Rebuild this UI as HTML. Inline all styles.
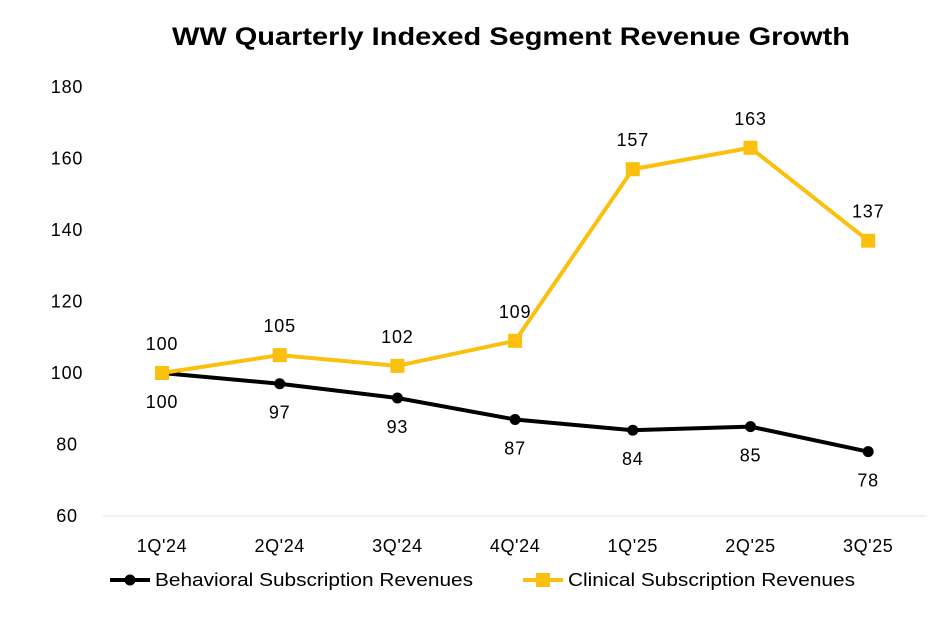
<!DOCTYPE html>
<html><head><meta charset="utf-8"><style>
body{margin:0;background:#fff;font-family:"Liberation Sans",sans-serif;}
svg text{font-family:"Liberation Sans",sans-serif;}
</style></head><body>
<svg id="c" width="949" height="619"></svg>
<script>
const categories=["1Q'24","2Q'24","3Q'24","4Q'24","1Q'25","2Q'25","3Q'25"];
const behavioral=[100,97,93,87,84,85,78];
const clinical=[100,105,102,109,157,163,137];
const yTicks=[60,80,100,120,140,160,180];
const NS="http://www.w3.org/2000/svg";
const svg=document.getElementById('c');
function y(v){return 516-(v-60)*(429/120);}
function x(i){return 162+i*117.7;}
function mk(t,a,p){const e=document.createElementNS(NS,t);for(const k in a)e.setAttribute(k,a[k]);(p||svg).appendChild(e);return e;}
const title=mk('text',{x:511,y:45,'text-anchor':'middle','font-size':25,'font-weight':'bold',fill:'#000',textLength:678,lengthAdjust:'spacingAndGlyphs'});


title.textContent='WW Quarterly Indexed Segment Revenue Growth';
yTicks.forEach(v=>{const t=mk('text',{x:67,y:y(v)+6,'text-anchor':'middle','font-size':18,'letter-spacing':0.8,fill:'#000'});


t.textContent=v;});
const ax=mk('line',{x1:103,x2:927,y1:516,y2:516,stroke:'#e6e6e6','stroke-width':1});


categories.forEach((c,i)=>{const t=mk('text',{x:x(i),y:552,'text-anchor':'middle','font-size':18,'letter-spacing':0.6,fill:'#000'});


t.textContent=c;});
function series(data,color,shape,name,off){
const g=mk('g',{});


mk('polyline',{points:data.map((v,i)=>x(i)+','+y(v)).join(' '),fill:'none',stroke:color,'stroke-width':4,'stroke-linejoin':'round'},g);
data.forEach((v,i)=>{let m;
if(shape==='c')m=mk('circle',{cx:x(i),cy:y(v),r:5.5,fill:color},g);
else m=mk('rect',{x:x(i)-7,y:y(v)-7,width:14,height:14,fill:color},g);


const t=mk('text',{x:x(i),y:y(v)+off,'text-anchor':'middle','font-size':18,'letter-spacing':0.8,fill:'#000'},g);


t.textContent=v;});
}
series(behavioral,'#000','c','behavioral-series',35);
series(clinical,'#fbbf0e','s','clinical-series',-23);
function legend(x0,color,shape,label,name,len){
const g=mk('g',{});


mk('line',{x1:x0,x2:x0+40,y1:580,y2:580,stroke:color,'stroke-width':4},g);
if(shape==='c')mk('circle',{cx:x0+20,cy:580,r:5.5,fill:color},g);
else mk('rect',{x:x0+13,y:573,width:14,height:14,fill:color},g);
const t=mk('text',{x:x0+45,y:586,'font-size':18,fill:'#000',textLength:len,lengthAdjust:'spacingAndGlyphs'},g);t.textContent=label;
}
legend(110,'#000','c','Behavioral Subscription Revenues','legend-behavioral',318);
legend(523,'#fbbf0e','s','Clinical Subscription Revenues','legend-clinical',287);
</script>
</body></html>
